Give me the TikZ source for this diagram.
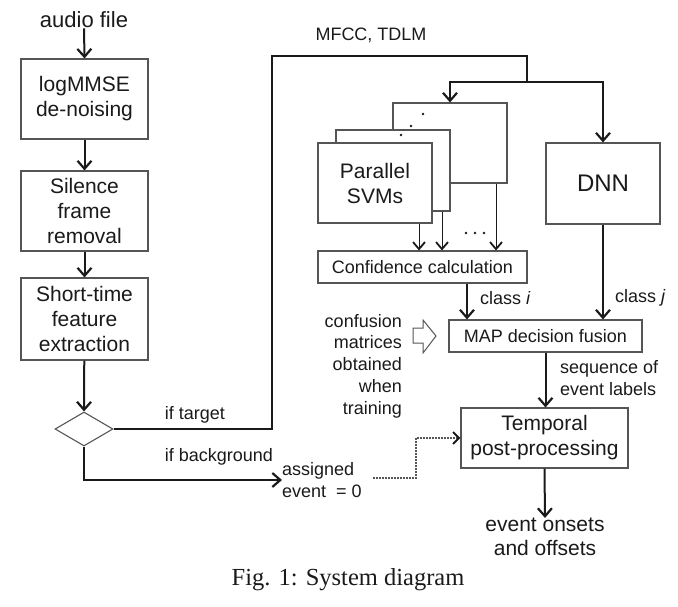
\documentclass[tikz,border=0pt]{standalone}
\usepackage{fontspec}
\setmainfont{Liberation Sans}
\newfontfamily\capfont{Liberation Serif}
\usetikzlibrary{arrows.meta,shapes.geometric}
\definecolor{boxgray}{HTML}{555555}
\definecolor{txt}{HTML}{1A1A1A}
\tikzset{
  bx/.style={draw=boxgray,line width=1.1pt,fill=white,text=txt,align=center,inner sep=0pt,
    font=\fontsize{21}{25}\selectfont},
  smallbx/.style={bx,font=\fontsize{18}{21}\selectfont},
  lbl/.style={text=txt,inner sep=0pt,font=\fontsize{18}{21.7}\selectfont},
  big/.style={text=txt,inner sep=0pt,align=center,font=\fontsize{21}{24}\selectfont},
  thk/.style={line width=2pt,draw=txt,-{Straight Barb[length=8pt,width=14pt,line width=2.2pt]}},
  thkline/.style={line width=2pt,draw=txt},
  thn/.style={line width=1pt,draw=txt,-{Straight Barb[length=7pt,width=12pt,line width=1.8pt]}},
  dotl/.style={line width=1.1pt,draw=boxgray,dash pattern=on 2pt off 1pt,-{Straight Barb[length=6pt,width=12pt,line width=2pt,color=txt]}},
}
\begin{document}
\begin{tikzpicture}[x=1pt,y=-1pt]
\useasboundingbox (0,0) rectangle (678,606);
% left column
\node[big,font=\fontsize{22}{24}\selectfont] (audio) at (84,20) {audio file};
\node[bx,minimum width=127pt,minimum height=80pt] (b1) at (84.5,99) {logMMSE\\de-noising};
\node[bx,minimum width=127pt,minimum height=80pt] (b2) at (84.5,211) {Silence\\frame\\removal};
\node[bx,minimum width=127pt,minimum height=82pt] (b3) at (84.5,319) {Short-time\\feature\\extraction};
\node[draw=boxgray,line width=1.1pt,diamond,aspect=1.7,minimum width=58pt,minimum height=34pt,inner sep=0pt] (dia) at (84,429) {};
\draw[thk] (audio.south) -- (b1.north);
\draw[thk] (b1) -- (b2);
\draw[thk] (b2) -- (b3);
\draw[thk] (b3) -- (dia.north);
% SVM stack
\node[bx,minimum width=114pt,minimum height=80pt] (svmC) at (450,143) {};
\node[bx,minimum width=114pt,minimum height=81pt] (svmB) at (393,170.5) {};
\node[bx,minimum width=114pt,minimum height=80pt] (svmA) at (375,183) {Parallel\\SVMs};
\node[bx,minimum width=114pt,minimum height=81pt,font=\fontsize{24}{28}\selectfont] (dnn) at (603,183.5) {DNN};
\fill[txt] (423,114) circle (1.4pt) (411,126) circle (1.4pt) (401,135) circle (1.4pt);
\node[smallbx,minimum width=209pt,minimum height=32pt] (conf) at (422.5,267) {Confidence calculation};
\node[smallbx,minimum width=193pt,minimum height=32pt] (map) at (545.5,336) {MAP decision fusion};
\node[bx,minimum width=167pt,minimum height=60pt] (temp) at (544.5,438) {Temporal\\post-processing};
% feature routing
\coordinate (c1) at (272,56);
\coordinate (split) at (527,82);
\draw[thkline] (dia.east) -| (c1) -| (split);
\draw[thk] (split) -| (svmC.north);
\draw[thk] (split) -| (dnn.north);
\node[lbl] (mfcc) at (371,35) {MFCC, TDLM};
\node[lbl] (iftarget) at (195,415) {if target};
% SVM outputs
\coordinate (t1) at (419,0);
\coordinate (t2) at (442,0);
\coordinate (t3) at (496,0);
\draw[thn] (t1 |- svmA.south) -- (t1 |- conf.north);
\draw[thn] (t2 |- svmB.south) -- (t2 |- conf.north);
\draw[thn] (t3 |- svmC.south) -- (t3 |- conf.north);
\fill[txt] (466,233) circle (1.3pt) (475,233) circle (1.3pt) (484,233) circle (1.3pt);
% class arrows
\coordinate (t4) at (467,0);
\draw[thk] (t4 |- conf.south) -- (t4 |- map.north);
\draw[thk] (dnn.south) -- (dnn.south |- map.north);
\node[lbl,anchor=west] (ci) at (480,298) {class \textit{i}};
\node[lbl,anchor=west] (cj) at (615,298) {class \textit{j}};
% confusion
\node[lbl,anchor=east,align=right] (confm) at (402,366) {confusion\\matrices\\obtained\\when\\training};
\draw[line width=1pt,draw=boxgray,fill=white] (413,328) -- (423,328) -- (423,320) -- (436,336) -- (423,353) -- (423,343) -- (413,343) -- cycle;
% map to temporal
\draw[thk] (map.south) -- (map.south |- temp.north);
\node[lbl,anchor=west,align=left] (seq) at (560,378) {sequence of\\event labels};
% background branch
\node[lbl,anchor=west,align=left] (asg) at (282,480) {assigned\\event~~= 0};
\draw[thk] (dia.south) |- (asg.west);
\node[lbl] (ifbg) at (219,457) {if background};
\coordinate (d1) at (373,478);
\coordinate (d2) at (416,478);
\draw[dotl] (d1) -- (d2) |- (temp.west);
% output
\node[big] (out) at (545,537) {event onsets\\and offsets};
\draw[thk] (temp.south) -- (out.north);
% caption
\node[text=txt,inner sep=0pt,font=\capfont\fontsize{24.5}{28}\selectfont] (cap) at (348,580) {Fig. 1: System diagram};
\end{tikzpicture}
\end{document}
